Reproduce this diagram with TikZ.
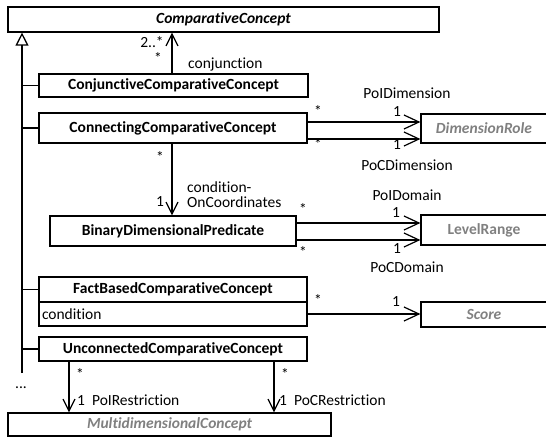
\documentclass[tikz,border=0pt]{standalone}
\usepackage{fontspec}
\setmainfont{Carlito}[Ligatures={NoCommon}]
\usetikzlibrary{arrows.meta}
\definecolor{greytext}{HTML}{808080}
% keep "t" and "i" as separate glyphs
\newcommand{\tI}{t\kern0pt i}
\begin{document}
\begin{tikzpicture}[x=1pt,y=-1pt,
  font=\fontsize{15.5}{18}\selectfont,
  cls/.style={draw,line width=1.2pt,inner sep=0pt,font=\fontsize{15.5}{18}\selectfont\bfseries},
  ext/.style={cls,text=greytext},
  lbl/.style={inner sep=0pt},
  assoc/.style={line width=1.2pt,-{Straight Barb[length=15pt,width=14pt,line width=1.2pt]}},
  vassoc/.style={line width=1.2pt,-{Straight Barb[length=12pt,width=12pt,line width=1.2pt]}},
  gen/.style={line width=1.2pt,-{Triangle[open,length=13pt,width=13pt,line width=1.3pt]}},
  plain/.style={line width=1.2pt}]
\useasboundingbox (0,0) rectangle (546,439);
\clip (0,0) rectangle (546,439);

% classes
\node[cls,minimum width=431pt,minimum height=25pt] (cc) at (223.5,19.5) {\itshape Compara\tI veConcept};
\node[cls,minimum width=269pt,minimum height=23pt] (conj) at (173.5,85.5) {Conjunc\tI veCompara\tI veConcept};
\node[cls,minimum width=268pt,minimum height=30pt] (conn) at (173,128) {ConnectingCompara\tI veConcept};
\node[cls,minimum width=246pt,minimum height=30pt] (bdp) at (173,231) {BinaryDimensionalPredicate};
\node[cls,minimum width=268pt,minimum height=25pt] (fbc) at (173,289.5) {FactBasedCompara\tI veConcept};
\node[cls,minimum width=268pt,minimum height=24pt,font=\fontsize{15.5}{18}\selectfont,
      text width=262pt,align=left] (fbcattr) at (173,314) {condi\tI on};
\node[cls,minimum width=268pt,minimum height=24pt] (ucc) at (173,349) {UnconnectedCompara\tI veConcept};
\node[ext,minimum width=323pt,minimum height=23pt] (mdc) at (169.5,424.5) {\itshape MultidimensionalConcept};

% referenced classes on the right
\node[ext,minimum width=126pt,minimum height=29pt] (dimrole) at (484,128.5) {\itshape DimensionRole};
\node[ext,minimum width=126pt,minimum height=30pt] (levrange) at (484,230) {LevelRange};
\node[ext,minimum width=126pt,minimum height=25pt] (score) at (484,314.5) {\itshape Score};

% generalisation tree
\coordinate (genbot) at (22,373);
\draw[gen] (genbot) -- (genbot |- cc.south);
\foreach \c in {conj,conn,fbc,ucc}
  \draw[plain] (\c.west) -- (\c.west -| genbot);
\node[lbl] (dots) at (21,388) {...};

% conjunction
\draw[vassoc] (conj.north -| 172,0) -- (cc.south -| 172,0);
\node[lbl] at (152,42) {2..*};
\node[lbl] at (158,58) {*};
\node[lbl,anchor=west] at (188,64) {conjunc\tI on};

% dimensions
\draw[assoc] (conn.east |- 0,122) -- (dimrole.west |- 0,122);
\draw[assoc] (conn.east |- 0,139) -- (dimrole.west |- 0,139);
\node[lbl] at (407,93) {PoIDimension};
\node[lbl] at (407,165) {PoCDimension};
\node[lbl] at (318,111) {*};
\node[lbl] at (397,112) {1};
\node[lbl] at (318,144) {*};
\node[lbl] at (397,145) {1};

% condition on coordinates
\draw[vassoc] (conn.south -| 172,0) -- (bdp.north -| 172,0);
\node[lbl] at (160,157) {*};
\node[lbl] at (160,202) {1};
\node[lbl,anchor=west] at (187,187) {condi\tI on-};
\node[lbl,anchor=west] at (187,202) {OnCoordinates};

% domains
\draw[assoc] (bdp.east |- 0,223) -- (levrange.west |- 0,223);
\draw[assoc] (bdp.east |- 0,240) -- (levrange.west |- 0,240);
\node[lbl] at (407,195) {PoIDomain};
\node[lbl] at (407,267) {PoCDomain};
\node[lbl] at (303,209) {*};
\node[lbl] at (396,213) {1};
\node[lbl] at (303,252) {*};
\node[lbl] at (397,249) {1};

% score
\draw[assoc] (fbcattr.east) -- (score.west |- fbcattr.east);
\node[lbl] at (318,300) {*};
\node[lbl] at (396,302) {1};

% restrictions
\draw[vassoc] (ucc.south -| 69,0) -- (mdc.north -| 69,0);
\draw[vassoc] (ucc.south -| 274,0) -- (mdc.north -| 274,0);
\node[lbl] at (80,374) {*};
\node[lbl] at (285,374) {*};
\node[lbl,anchor=west] at (77,400) {1\ \ PoIRestric\tI on};
\node[lbl,anchor=west] at (279,400) {1\ \ PoCRestric\tI on};
\end{tikzpicture}
\end{document}
